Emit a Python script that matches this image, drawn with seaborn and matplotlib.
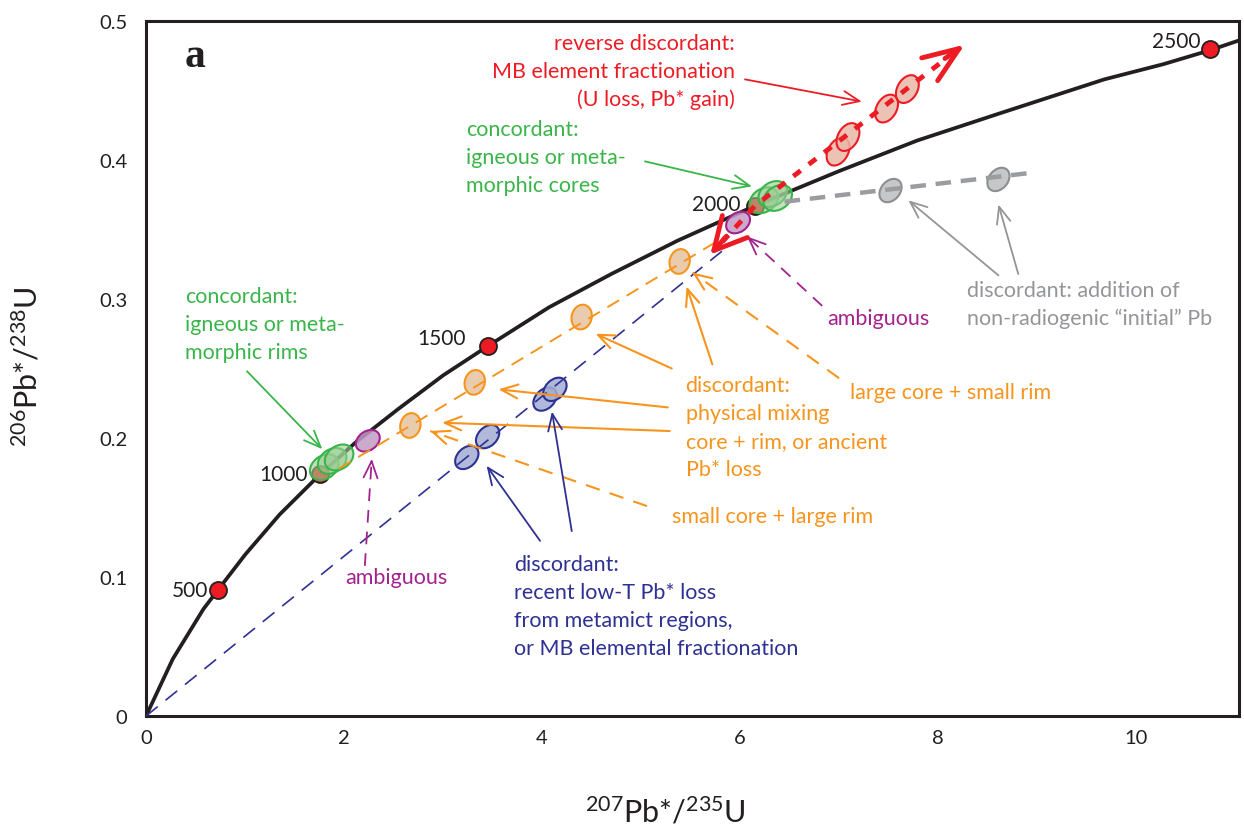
import matplotlib
matplotlib.use("Agg")
import numpy as np
import pandas as pd
import seaborn as sns
import matplotlib.pyplot as plt
from matplotlib.patches import Ellipse
from matplotlib.transforms import ScaledTranslation
from matplotlib.colors import to_rgba

# ---------------- data ----------------
conc_x = [0.0, 0.27, 0.58, 0.73, 1.0, 1.35, 1.76, 2.12, 2.55, 3.0, 3.45, 4.07, 4.7,
          5.37, 6.15, 7.0, 7.79, 8.6, 9.68, 10.28, 10.75, 11.04]
conc_y = [0.0, 0.041, 0.077, 0.091, 0.116, 0.145, 0.174, 0.197, 0.221, 0.245, 0.266,
          0.294, 0.318, 0.342, 0.367, 0.392, 0.414, 0.433, 0.458, 0.469, 0.479, 0.486]

age_labels = ["500", "1000", "1500", "2000", "2500"]
age_x = [0.73, 1.76, 3.45, 6.15, 10.75]
age_y = [0.091, 0.174, 0.266, 0.367, 0.480]

green_rim_x = [1.80, 1.88, 1.95]
green_rim_y = [0.179, 0.1835, 0.186]
green_core_x = [6.24, 6.33, 6.38]
green_core_y = [0.371, 0.3755, 0.3727]
purple_x = [2.24, 5.98]
purple_y = [0.198, 0.355]
orange_x = [2.67, 3.32, 4.40, 5.39]
orange_y = [0.209, 0.240, 0.287, 0.327]
blue_x = [3.24, 3.45, 4.03, 4.13]
blue_y = [0.186, 0.201, 0.228, 0.235]
red_x = [6.99, 7.09, 7.48, 7.69]
red_y = [0.406, 0.4165, 0.437, 0.451]
grey_x = [7.52, 8.61]
grey_y = [0.378, 0.386]

mix_line_x = [1.95, 5.85]
mix_line_y = [0.178, 0.345]
loss_line_x = [0.0, 5.95]
loss_line_y = [0.0, 0.342]
common_line_x = [6.45, 8.97]
common_line_y = [0.370, 0.391]
reverse_line_x = [5.82, 6.15, 8.10]
reverse_line_y = [0.341, 0.367, 0.474]

x_ticks = list(range(0, 11))
x_tick_labels = ["0", "", "2", "", "4", "", "6", "", "8", "", "10"]
y_ticks = [0.0, 0.05, 0.1, 0.15, 0.2, 0.25, 0.3, 0.35, 0.4, 0.45, 0.5]
y_tick_labels = ["0", "", "0.1", "", "0.2", "", "0.3", "", "0.4", "", "0.5"]

# ---------------- style ----------------
BLACK = "#231F20"
RED = "#ED1C24"
GREEN = "#39B54A"
ORANGE = "#F7941D"
PURPLE = "#A3238E"
BLUE = "#2E3192"
GREY = "#939598"

sns.set_theme(style="white")
plt.rcParams["font.family"] = ["Lato", "DejaVu Sans"]
plt.rcParams["mathtext.default"] = "regular"

fig = plt.figure(figsize=(12.44, 8.29), dpi=100)
ax = fig.add_axes([0.1174, 0.1351, 0.8786, 0.8384])
ax.set_xlim(0, 11.04)
ax.set_ylim(0, 0.5)

# concordia
conc = pd.DataFrame({"x": conc_x, "y": conc_y})
sns.lineplot(data=conc, x="x", y="y", ax=ax, color=BLACK, lw=2.7, sort=False,
             estimator=None, zorder=3)

# reference (discordia) lines
sns.lineplot(x=loss_line_x, y=loss_line_y, ax=ax, color=BLUE, lw=1.2,
             linestyle=(0, (9, 6)), zorder=6, sort=False, estimator=None)
sns.lineplot(x=mix_line_x, y=mix_line_y, ax=ax, color=ORANGE, lw=1.4,
             linestyle=(0, (7, 4.5)), zorder=6, sort=False, estimator=None)
sns.lineplot(x=common_line_x, y=common_line_y, ax=ax, color="#9A9C9F", lw=3.2,
             linestyle=(0, (3.5, 2.2)), zorder=6, sort=False, estimator=None)
sns.lineplot(x=reverse_line_x, y=reverse_line_y, ax=ax, color=RED, lw=3.5,
             linestyle=(0, (1.9, 2.1)), zorder=7, sort=False, estimator=None)

# red arrowheads (both directions)
for tip, tail, hl, hw in [((8.27, 0.483), (8.07, 0.473), 1.3, 0.5),
                          ((5.70, 0.332), (5.86, 0.345), 1.15, 0.6)]:
    ax.annotate("", xy=tip, xytext=tail,
                arrowprops=dict(arrowstyle=f"->,head_length={hl},head_width={hw}",
                                color=RED, lw=3.5, shrinkA=0, shrinkB=0,
                                mutation_scale=20),
                zorder=8)

# age points on concordia
sns.scatterplot(x=age_x, y=age_y, ax=ax, s=150, color=RED, edgecolor=BLACK,
                linewidth=1.3, zorder=4)
age_offsets = [(-10, 0), (-13, 0), (-22, 8), (-14, 2), (-10, 8)]
for lab, xx, yy, off in zip(age_labels, age_x, age_y, age_offsets):
    ax.annotate(lab, (xx, yy), xytext=off, textcoords="offset pixels",
                ha="right", va="center", fontsize=15, color=BLACK, zorder=9)


# ellipses (sizes in pixels, centred on data points)
def ellipses(xs, ys, w, h, ang, fc, ec, alpha=0.85, lw=1.5):
    for xx, yy in zip(xs, ys):
        tr = ScaledTranslation(xx, yy, ax.transData)
        e = Ellipse((0, 0), w, h, angle=ang, transform=tr,
                    facecolor=to_rgba(fc, alpha), edgecolor=ec, lw=lw, zorder=5)
        ax.add_artist(e)


ellipses(green_rim_x, green_rim_y, 31, 23, 35, "#9ACD93", GREEN, alpha=0.6)
ellipses(green_core_x, green_core_y, 31, 23, 35, "#9ACD93", GREEN, alpha=0.6)
ellipses(purple_x, purple_y, 26, 19, 35, "#C39BC5", PURPLE)
ellipses(orange_x, orange_y, 20, 25, -15, "#E5C39F", ORANGE)
ellipses(blue_x, blue_y, 27, 19, 45, "#A3ADD3", BLUE)
ellipses(red_x, red_y, 30, 20, 60, "#E9B8A8", RED)
ellipses(grey_x, grey_y, 26, 19, 50, "#BBBDBF", "#8C8E91")


# annotation arrows
def arrow(p0, p1, color, lw=1.3, hl=0.6, hw=0.25):
    ax.annotate("", xy=p1, xytext=p0,
                arrowprops=dict(arrowstyle=f"->,head_length={hl},head_width={hw}",
                                color=color, lw=lw, shrinkA=0, shrinkB=0,
                                mutation_scale=20),
                zorder=7)


def dashed_arrow(p0, p1, color, lw=1.3, hl=0.6, hw=0.25):
    ax.plot([p0[0], p1[0]], [p0[1], p1[1]], color=color, lw=lw,
            linestyle=(0, (7, 5)), zorder=7)
    fx = p1[0] + (p0[0] - p1[0]) * 0.03
    fy = p1[1] + (p0[1] - p1[1]) * 0.03
    arrow((fx, fy), p1, color, lw=lw, hl=hl, hw=hw)


arrow((6.05, 0.458), (7.23, 0.442), RED)
arrow((5.04, 0.399), (6.12, 0.381), GREEN)
arrow((1.02, 0.248), (1.78, 0.192), GREEN)
dashed_arrow((6.83, 0.295), (6.07, 0.345), PURPLE)
dashed_arrow((2.21, 0.108), (2.28, 0.185), PURPLE)
arrow((5.31, 0.250), (4.54, 0.275), ORANGE, lw=1.5)
arrow((5.72, 0.253), (5.46, 0.309), ORANGE, lw=1.5)
arrow((5.27, 0.222), (3.56, 0.235), ORANGE, lw=1.5)
arrow((5.29, 0.205), (2.99, 0.211), ORANGE, lw=1.5)
dashed_arrow((7.00, 0.243), (5.52, 0.319), ORANGE, lw=1.5)
dashed_arrow((5.06, 0.151), (2.87, 0.205), ORANGE, lw=1.5)
arrow((3.98, 0.126), (3.44, 0.180), BLUE)
arrow((4.30, 0.133), (4.10, 0.219), BLUE)
arrow((8.61, 0.317), (7.70, 0.371), GREY)
arrow((8.81, 0.318), (8.61, 0.368), GREY)

# texts (each line placed separately, 28 px apart)
FS = 15.5
STEP = 28 / 1390.0


def block(x, y_first, lines, color, ha="left"):
    for i, s in enumerate(lines):
        ax.text(x, y_first - i * STEP, s, color=color, fontsize=FS, ha=ha,
                va="center", zorder=9)


block(5.95, (717 - 44) / 1390, ["reverse discordant:", "MB element fractionation",
                                "(U loss, Pb* gain)"], RED, ha="right")
block(3.23, (717 - 130) / 1390, ["concordant:", "igneous or meta-",
                                 "morphic cores"], GREEN)
block(0.39, (717 - 297) / 1390, ["concordant:", "igneous or meta-",
                                 "morphic rims"], GREEN)
block(5.45, (717 - 386) / 1390, ["discordant:", "physical mixing",
                                 "core + rim, or ancient", "Pb* loss"], ORANGE)
block(7.11, 0.233, ["large core + small rim"], ORANGE)
block(5.31, 0.144, ["small core + large rim"], ORANGE)
block(3.72, (717 - 565) / 1390, ["discordant:", "recent low-T Pb* loss",
                                 "from metamict regions,",
                                 "or MB elemental fractionation"], BLUE)
block(6.88, 0.286, ["ambiguous"], PURPLE)
block(2.01, 0.100, ["ambiguous"], PURPLE)
block(8.29, (717 - 291) / 1390, ["discordant: addition of",
                                 "non-radiogenic \u201cinitial\u201d Pb"], GREY)
ax.text(0.39, 0.475, "a", fontsize=30, fontweight="bold", family="Liberation Serif",
        color=BLACK, ha="left", va="center", zorder=9)

# axes styling
ax.set_xticks(x_ticks)
ax.set_xticklabels(x_tick_labels)
ax.set_yticks(y_ticks)
ax.set_yticklabels(y_tick_labels)
ax.tick_params(axis="both", direction="in", length=7, width=2.2, color=BLACK,
               labelcolor=BLACK, labelsize=14.5)
ax.tick_params(axis="x", pad=9.5)
ax.tick_params(axis="y", pad=13.5)
for sp in ax.spines.values():
    sp.set_visible(True)
    sp.set_linewidth(2.2)
    sp.set_color(BLACK)

ax.set_xlabel("$^{207}$Pb*/$^{235}$U", fontsize=22, color=BLACK)
ax.set_ylabel("$^{206}$Pb*/$^{238}$U", fontsize=22, color=BLACK)
ax.xaxis.set_label_coords(0.475, -0.113)
ax.yaxis.set_label_coords(-0.095, 0.504)

fig.savefig("out.png", dpi=100)
